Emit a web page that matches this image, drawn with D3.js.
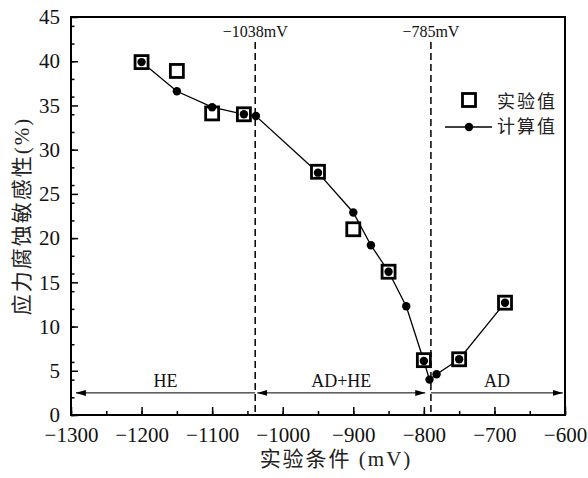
<!DOCTYPE html>
<html>
<head>
<meta charset="utf-8">
<script src="https://cdn.jsdelivr.net/npm/d3@7"></script>
<style>
  html, body { margin: 0; padding: 0; background: #fff; }
  svg { display: block; }
</style>
</head>
<body>
<svg id="chart" width="588" height="478"></svg>
<script>
// ── Data ──
const expX = [-1200, -1150, -1100, -1055, -950, -900, -850, -800, -750, -685];
const expY = [39.9, 38.9, 34.1, 34.0, 27.5, 21.0, 16.2, 6.2, 6.3, 12.7];

const calcX = [-1200, -1150, -1100, -1055, -1038, -950, -900, -875, -850, -825, -800, -792, -782, -750, -685];
const calcY = [39.9, 36.6, 34.8, 34.0, 33.8, 27.4, 22.9, 19.2, 16.2, 12.3, 6.1, 4.0, 4.6, 6.3, 12.7];

const xTicks = [-1300, -1200, -1100, -1000, -900, -800, -700, -600];
const yTicks = [0, 5, 10, 15, 20, 25, 30, 35, 40, 45];

// boundary lines: where drawn / label text
const boundX = [-1039, -790];
const boundLabels = ['\u22121038mV', '\u2212785mV'];

// mechanism regions along y = 2.5
const regionNames = ['HE', 'AD+HE', 'AD'];
const regionFrom = [-1293, -1036, -790];
const regionTo = [-1039, -798, -603];
const regionHeads = [['start'], ['start', 'end'], ['end']];
const regionY = 2.5;

const legendNames = ['实验值', '计算值'];

// ── Layout ──
const svg = d3.select('#chart');
const L = 71, R = 565, T = 17, B = 415;
const x = d3.scaleLinear().domain([-1300, -600]).range([L, R]);
const y = d3.scaleLinear().domain([0, 45]).range([B, T]);

const NUM = '"Liberation Serif", "Times New Roman", serif';
const CJK = '"Noto Sans CJK SC", "Noto Sans", sans-serif';

// arrow heads
const defs = svg.append('defs');
[['arrEnd', 'M0,-3L10,0L0,3Z'], ['arrStart', 'M10,-3L0,0L10,3Z']].forEach(([id, d]) => {
  defs.append('marker').attr('id', id)
    .attr('viewBox', '0 -4 10 8')
    .attr('refX', id === 'arrEnd' ? 10 : 0).attr('refY', 0)
    .attr('markerWidth', 10).attr('markerHeight', 8)
    .attr('markerUnits', 'userSpaceOnUse')
    .attr('orient', 'auto')
    .append('path').attr('d', d).attr('fill', '#000');
});

// ── Axes ──
const fmt = d3.format('d');
function styleAxis(g) {
  g.select('.domain').remove();
  g.selectAll('.tick line').attr('stroke', '#000').attr('stroke-width', 1.5);
  g.selectAll('.tick text').attr('font-family', NUM).attr('font-size', 21).attr('fill', '#111');
}

svg.append('g').attr('transform', `translate(0,${B})`)
  .call(d3.axisBottom(x).tickValues(xTicks).tickFormat(fmt).tickSizeInner(-8).tickSizeOuter(0).tickPadding(12))
  .call(styleAxis);
svg.append('g').attr('transform', `translate(0,${B})`)
  .call(d3.axisBottom(x).ticks(14).tickFormat('').tickSizeInner(-4).tickSizeOuter(0))
  .call(styleAxis);

svg.append('g').attr('transform', `translate(${L},0)`)
  .call(d3.axisLeft(y).tickValues(yTicks).tickFormat(fmt).tickSizeInner(-7).tickSizeOuter(0).tickPadding(11))
  .call(styleAxis);
svg.append('g').attr('transform', `translate(${L},0)`)
  .call(d3.axisLeft(y).ticks(18).tickFormat('').tickSizeInner(-3.5).tickSizeOuter(0))
  .call(styleAxis);

svg.append('rect').attr('x', L).attr('y', T).attr('width', R - L).attr('height', B - T)
  .attr('fill', 'none').attr('stroke', '#000').attr('stroke-width', 2);

// axis titles
svg.append('text').text('实验条件 (mV)')
  .attr('x', (L + R) / 2 + 18).attr('y', 466)
  .attr('text-anchor', 'middle').attr('font-family', NUM + ',' + CJK)
  .attr('font-size', 21).attr('letter-spacing', 2).attr('fill', '#222');

svg.append('text').text('应力腐蚀敏感性(%)')
  .attr('transform', `translate(29,216) rotate(-90)`)
  .attr('text-anchor', 'middle').attr('font-family', NUM + ',' + CJK)
  .attr('font-size', 21).attr('letter-spacing', 2).attr('fill', '#222');

// ── Boundary lines ──
boundX.forEach((v, i) => {
  svg.append('line').attr('x1', x(v)).attr('x2', x(v)).attr('y1', 42).attr('y2', B)
    .attr('stroke', '#000').attr('stroke-width', 1.5).attr('stroke-dasharray', '7,4');
  svg.append('text').text(boundLabels[i]).attr('x', x(v)).attr('y', 37)
    .attr('text-anchor', 'middle').attr('font-family', NUM).attr('font-size', 16).attr('fill', '#111');
});

// ── Region arrows ──
regionNames.forEach((n, i) => {
  const ln = svg.append('line')
    .attr('x1', x(regionFrom[i])).attr('x2', x(regionTo[i]))
    .attr('y1', y(regionY)).attr('y2', y(regionY))
    .attr('stroke', '#000').attr('stroke-width', 1);
  if (regionHeads[i].includes('start')) ln.attr('marker-start', 'url(#arrStart)');
  if (regionHeads[i].includes('end')) ln.attr('marker-end', 'url(#arrEnd)');
  svg.append('text').text(n)
    .attr('x', x((regionFrom[i] + regionTo[i]) / 2)).attr('y', y(regionY) - 6)
    .attr('text-anchor', 'middle').attr('font-family', NUM).attr('font-size', 18).attr('fill', '#111');
});

// ── Series ──
const calc = calcX.map((v, i) => [v, calcY[i]]);
const exp = expX.map((v, i) => [v, expY[i]]);

svg.append('path').datum(calc)
  .attr('d', d3.line().x(d => x(d[0])).y(d => y(d[1])))
  .attr('fill', 'none').attr('stroke', '#000').attr('stroke-width', 1.3);

const sq = 13;
svg.append('g').selectAll('rect').data(exp).enter().append('rect')
  .attr('x', d => x(d[0]) - sq / 2).attr('y', d => y(d[1]) - sq / 2)
  .attr('width', sq).attr('height', sq)
  .attr('fill', '#fff').attr('stroke', '#000').attr('stroke-width', 2.8);

svg.append('g').selectAll('circle').data(calc).enter().append('circle')
  .attr('cx', d => x(d[0])).attr('cy', d => y(d[1])).attr('r', 4.2)
  .attr('fill', '#000');

// ── Legend ──
const lg = svg.append('g');
lg.append('rect').attr('x', 469 - sq / 2).attr('y', 100 - sq / 2).attr('width', sq).attr('height', sq)
  .attr('fill', '#fff').attr('stroke', '#000').attr('stroke-width', 2.8);
lg.append('line').attr('x1', 445).attr('x2', 492).attr('y1', 127).attr('y2', 127)
  .attr('stroke', '#000').attr('stroke-width', 1.3);
lg.append('circle').attr('cx', 469).attr('cy', 127).attr('r', 4.2).attr('fill', '#000');
legendNames.forEach((n, i) => {
  lg.append('text').text(n).attr('x', 497).attr('y', 103 + i * 25)
    .attr('dominant-baseline', 'middle')
    .attr('font-family', CJK).attr('font-size', 18).attr('letter-spacing', 2).attr('fill', '#222');
});
</script>
</body>
</html>
